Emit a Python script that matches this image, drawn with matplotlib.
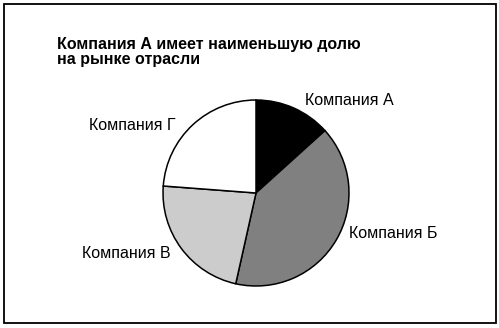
import matplotlib.pyplot as plt
from matplotlib.patches import Rectangle

plt.rcParams['font.family'] = ['Liberation Sans', 'DejaVu Sans']

# market shares, %
companies = ['Компания А', 'Компания Б', 'Компания В', 'Компания Г']
shares = [13.3, 40.2, 22.7, 23.8]
colors = ['#000000', '#808080', '#cccccc', '#ffffff']

title = 'Компания А имеет наименьшую долю\nна рынке отрасли'

W, H = 499, 328
fig = plt.figure(figsize=(W / 100, H / 100), dpi=100)

# outer frame
fig.patches.append(Rectangle((3.5 / W, 5.5 / H), 492.5 / W, 319 / H,
                             transform=fig.transFigure, fill=False,
                             edgecolor='black', linewidth=1.3))

# pie: center (256, 193) px, radius 93 px
cx, cy, r = 256, 193, 93
ax = fig.add_axes([(cx - r) / W, (H - cy - r) / H, 2 * r / W, 2 * r / H])
ax.pie(shares, colors=colors, startangle=90, counterclock=False,
       wedgeprops=dict(edgecolor='black', linewidth=1.1))
ax.set_xlim(-1, 1)
ax.set_ylim(-1, 1)
ax.set_aspect('equal')
ax.axis('off')

# labels (left x, center y in px)
label_pos = [(305, 101), (349, 234), (82, 254), (89, 126)]
for name, (x, y) in zip(companies, label_pos):
    fig.text(x / W, 1 - y / H, name, fontsize=11.5, ha='left', va='center')

fig.text(57 / W, 1 - 37 / H, title, fontsize=11.5, fontweight='bold',
         ha='left', va='top', linespacing=1.0)

fig.savefig('out.png', dpi=100)
